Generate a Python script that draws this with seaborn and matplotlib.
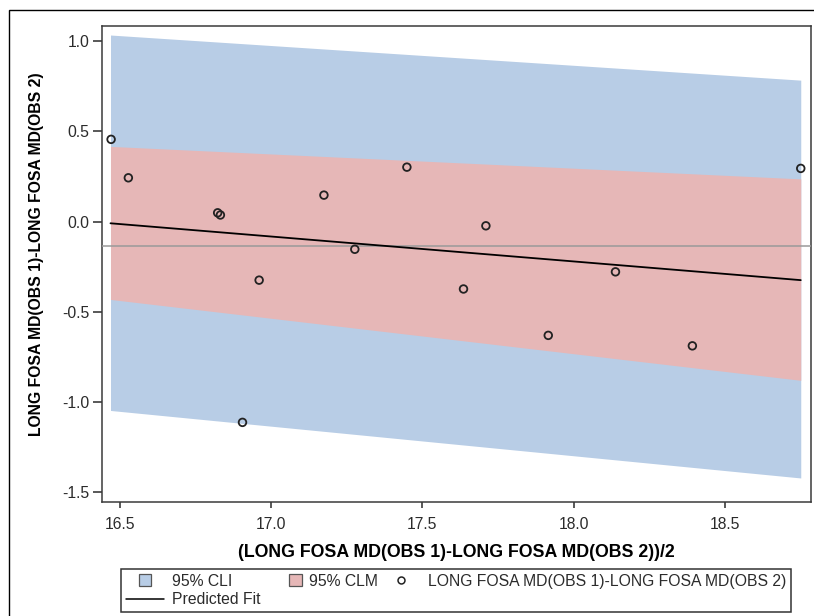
import numpy as np
import pandas as pd
import seaborn as sns
import matplotlib
matplotlib.use('Agg')
from matplotlib import pyplot as plt
import matplotlib.patches as mpatches
from matplotlib.lines import Line2D
from matplotlib.legend_handler import HandlerPatch

# Values.
mean_x = [16.472, 16.529, 16.824, 16.833, 16.906, 16.961, 17.175, 17.277,
          17.449, 17.636, 17.710, 17.916, 18.138, 18.392, 18.750]
diff_y = [0.456, 0.243, 0.049, 0.037, -1.112, -0.324, 0.147, -0.153,
          0.302, -0.373, -0.023, -0.630, -0.278, -0.688, 0.295]

band_x = [16.47, 18.75]
cli_lower = [-1.046, -1.420]
cli_upper = [1.034, 0.784]
clm_lower = [-0.431, -0.879]
clm_upper = [0.417, 0.237]
fit_y = [-0.009, -0.324]
mean_diff = -0.133

x_ticks = [16.5, 17.0, 17.5, 18.0, 18.5]
y_ticks = [-1.5, -1.0, -0.5, 0.0, 0.5, 1.0]

xlab = '(LONG FOSA MD(OBS 1)-LONG FOSA MD(OBS 2))/2'
ylab = 'LONG FOSA MD(OBS 1)-LONG FOSA MD(OBS 2)'

CLI_COLOR = '#B8CDE6'
CLM_COLOR = '#E6B7B7'
DARK = '#2b2b2b'

sns.set_style('white')
plt.rcParams['font.family'] = ['Liberation Sans', 'DejaVu Sans']

pts = pd.DataFrame({'x': mean_x, 'y': diff_y})
fit = pd.DataFrame({'x': band_x, 'y': fit_y})

fig = plt.figure(figsize=(8.14, 6.16), dpi=100)
ax = fig.add_axes([0.1257, 0.1851, 0.8703, 0.7727])

ax.fill_between(band_x, cli_lower, cli_upper, color=CLI_COLOR, lw=0, zorder=1)
ax.fill_between(band_x, clm_lower, clm_upper, color=CLM_COLOR, lw=0, zorder=2)
ax.axhline(mean_diff, color='#9a9a9a', lw=1.1, zorder=3)
sns.lineplot(data=fit, x='x', y='y', color='black', lw=1.3, ax=ax, zorder=4)
sns.scatterplot(data=pts, x='x', y='y', s=30, facecolor='none',
                edgecolor='#222222', linewidth=1.3, ax=ax, zorder=5)

ax.set_xlim(16.443, 18.783)
ax.set_ylim(-1.553, 1.084)
ax.set_xticks(x_ticks)
ax.set_yticks(y_ticks)
ax.set_xticklabels([f'{t:.1f}' for t in x_ticks])
ax.set_yticklabels([f'{t:.1f}' for t in y_ticks])
ax.tick_params(axis='both', labelsize=11.3, colors=DARK, direction='out',
               width=1.1, bottom=True, left=True)
ax.tick_params(axis='y', length=6.5, pad=3)
ax.tick_params(axis='x', length=4.5, pad=6)
for sp in ax.spines.values():
    sp.set_color('#3a3a3a')
    sp.set_linewidth(1.1)

ax.set_xlabel(xlab, fontsize=12.8, fontweight='bold', color='black')
ax.set_ylabel(ylab, fontsize=11.3, fontweight='bold', color='black')
ax.xaxis.label.set_va('center')
ax.yaxis.label.set_va('center')
ax.xaxis.set_label_coords(0.5, -0.107)
ax.yaxis.set_label_coords(-0.093, 0.52)


# square patch handles: centred (first column) or pushed to the right (second)
def square_center(legend, orig_handle, xdescent, ydescent, width, height, fontsize):
    side = 9
    return mpatches.Rectangle((width / 2 - side / 2 - xdescent, height / 2 - side / 2 - ydescent), side, side)


def square_right(legend, orig_handle, xdescent, ydescent, width, height, fontsize):
    side = 9
    return mpatches.Rectangle((width - side - xdescent, height / 2 - side / 2 - ydescent), side, side)


h_cli = mpatches.Patch(facecolor=CLI_COLOR, edgecolor='#555555', lw=0.9, label='95% CLI')
h_clm = mpatches.Patch(facecolor=CLM_COLOR, edgecolor='#555555', lw=0.9, label='95% CLM')
h_fit = Line2D([], [], color='black', lw=1.1, label='Predicted Fit')
h_pts = Line2D([], [], ls='none', marker='o', markersize=5, markerfacecolor='none',
               markeredgecolor='#222222', markeredgewidth=1.1, label=ylab)

leg = fig.legend(handles=[h_cli, h_fit, h_clm, h_pts], ncol=3,
                 loc='upper center', bbox_to_anchor=(456 / 814, 1 - 569 / 616),
                 fontsize=11.3, frameon=True, fancybox=False, shadow=False,
                 handlelength=2.4, handletextpad=0.5, columnspacing=0.25,
                 labelspacing=0.22, borderpad=0.3, borderaxespad=0,
                 handler_map={h_cli: HandlerPatch(patch_func=square_center),
                              h_clm: HandlerPatch(patch_func=square_right)})
leg.get_frame().set_edgecolor('#333333')
leg.get_frame().set_linewidth(1.1)
leg.get_frame().set_alpha(1)
for t in leg.get_texts():
    t.set_color(DARK)

# thin frame around the whole graph
fig.add_artist(mpatches.Rectangle((9 / 814, -0.05), 1.2, 1 - 10 / 616 + 0.05,
                                  transform=fig.transFigure, fill=False,
                                  edgecolor='black', lw=1.0))

fig.savefig('out.png', dpi=100)
